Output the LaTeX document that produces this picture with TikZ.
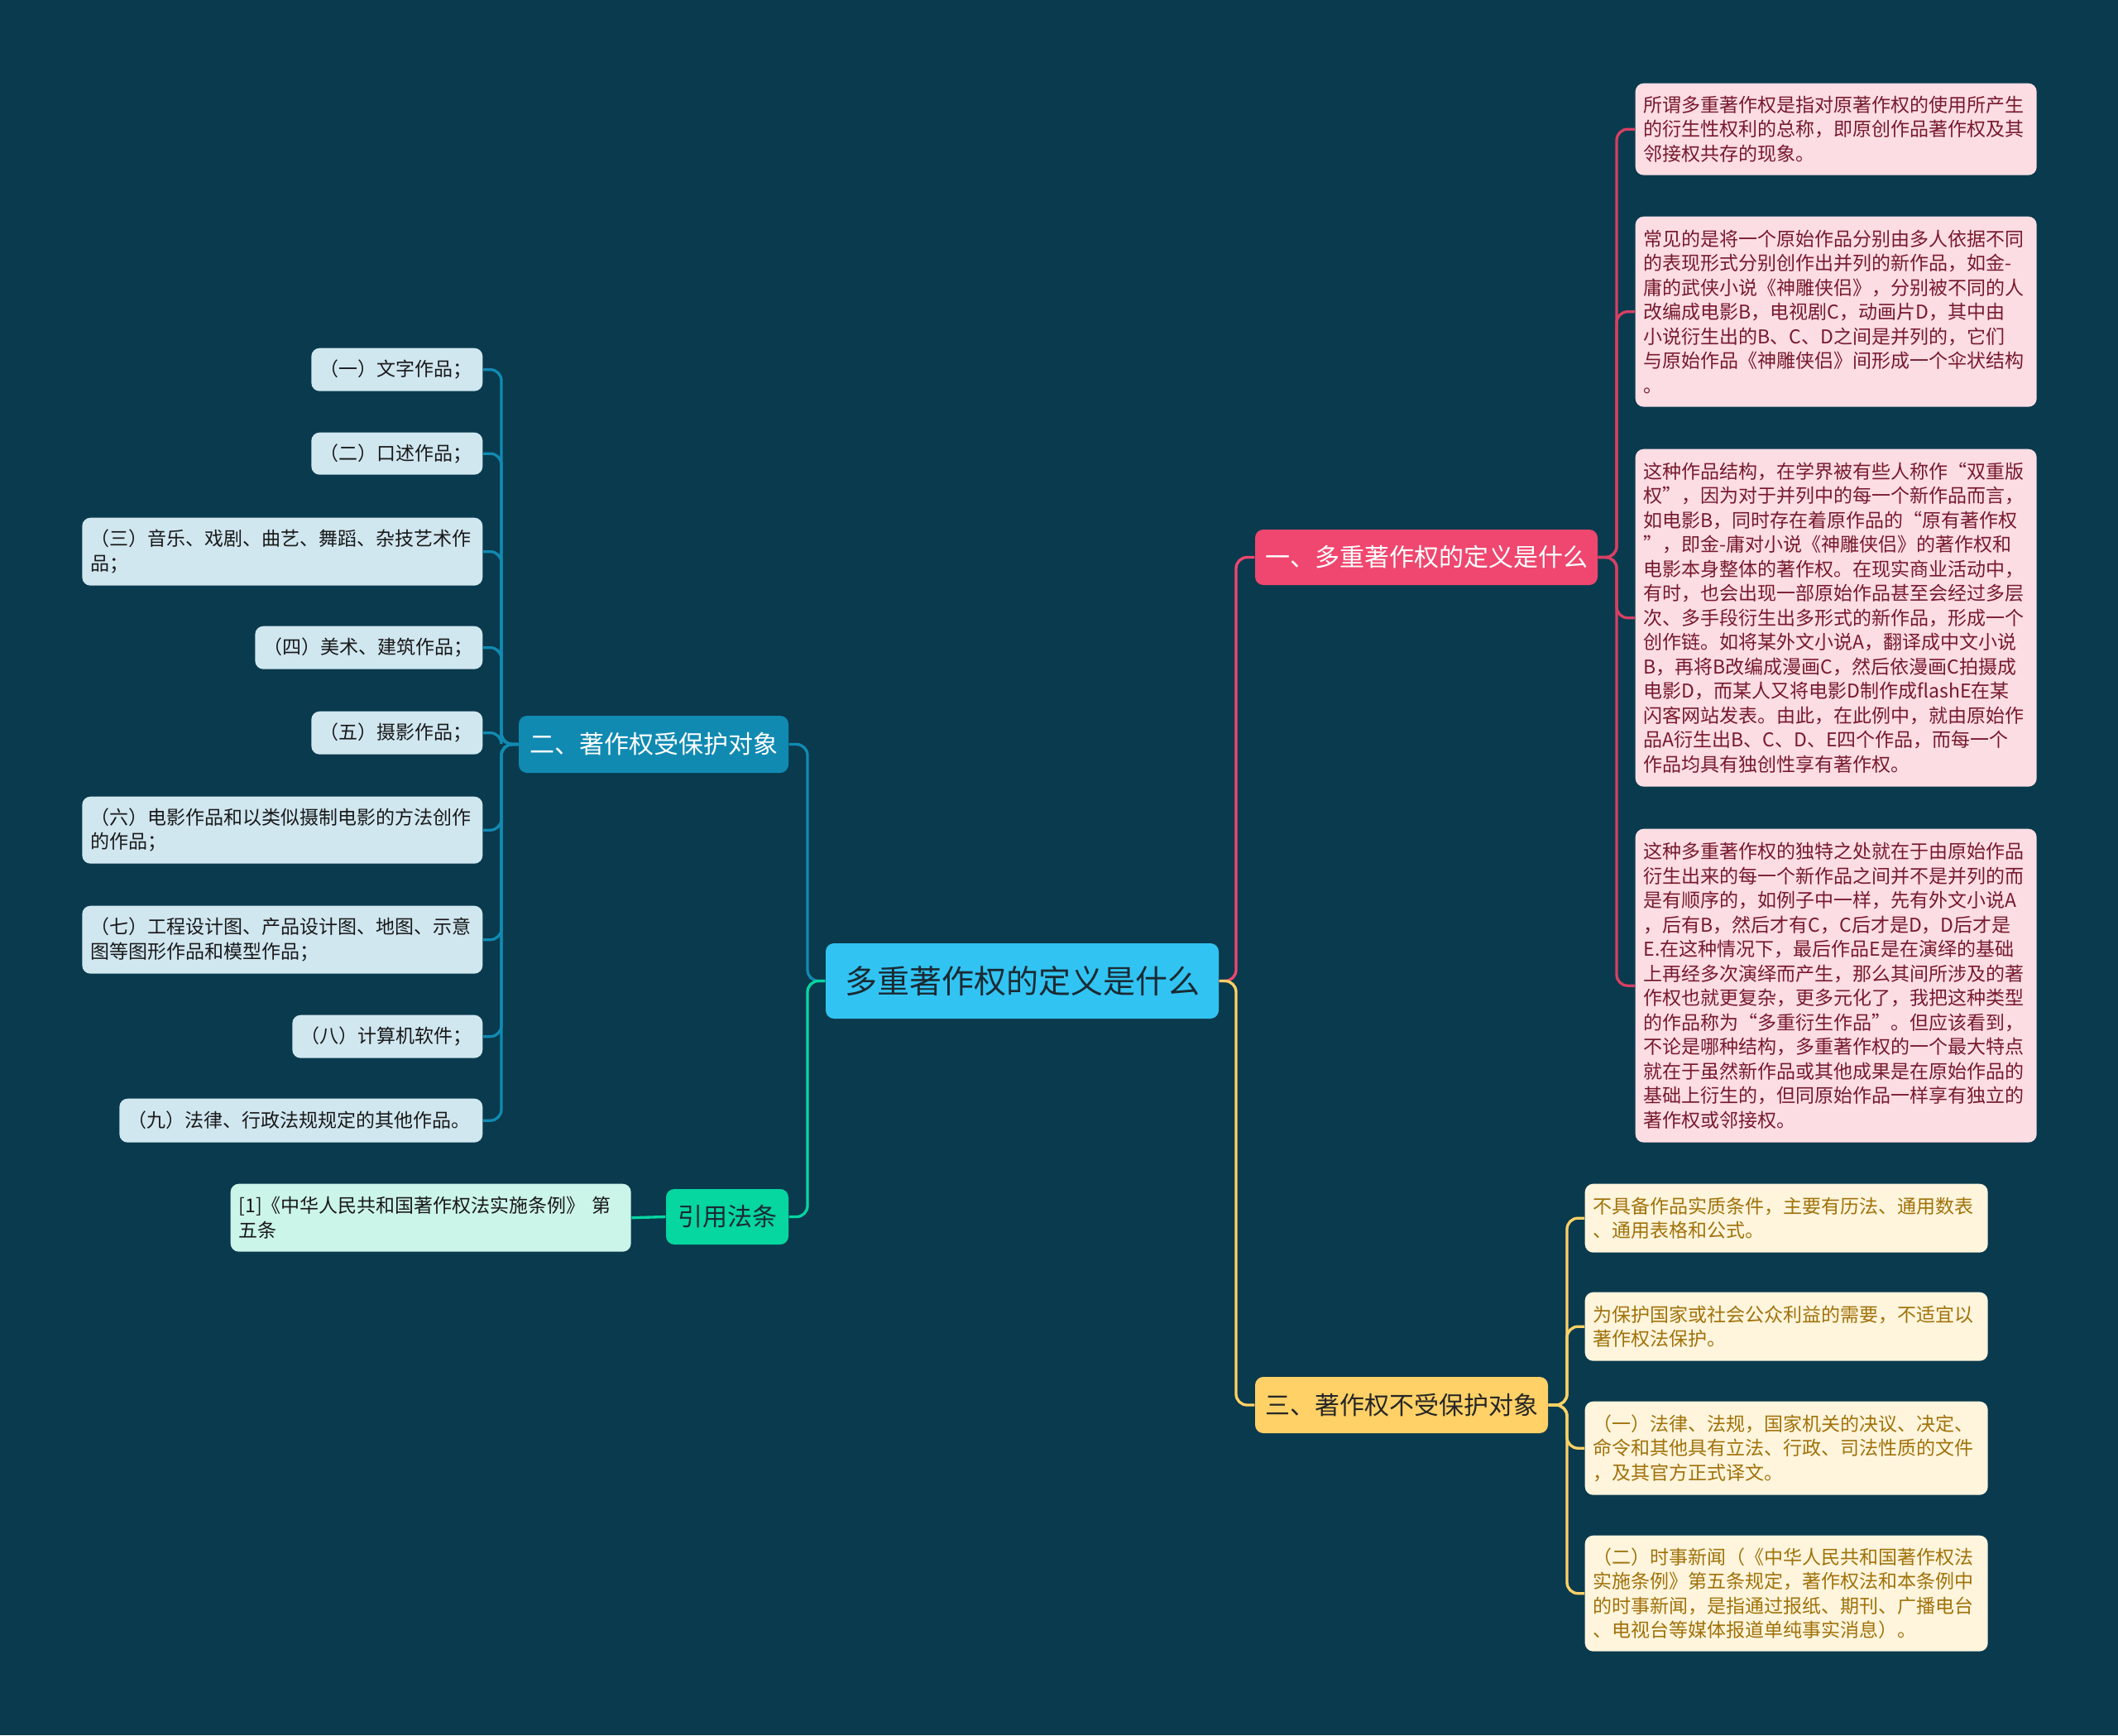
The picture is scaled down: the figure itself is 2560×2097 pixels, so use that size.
\documentclass[tikz,border=0pt]{standalone}
\usepackage{fontspec}
\setmainfont{Noto Sans CJK SC}
\definecolor{bg}{HTML}{0A3A4D}
\definecolor{rootc}{HTML}{31C4F3}
\definecolor{pinkc}{HTML}{EF476F}
\definecolor{bluec}{HTML}{118AB2}
\definecolor{greenc}{HTML}{06D6A0}
\definecolor{yelc}{HTML}{FFD166}
\definecolor{pinkleaf}{HTML}{FDDDE4}
\definecolor{pinktext}{HTML}{771A2E}
\definecolor{yelleaf}{HTML}{FFF5DD}
\definecolor{yeltext}{HTML}{A0720A}
\definecolor{blueleaf}{HTML}{D0E7F0}
\definecolor{greenleaf}{HTML}{CCF5EA}
\definecolor{darktext}{HTML}{1A2A33}
\tikzset{
  box/.style={rectangle, rounded corners=3pt, inner sep=0pt},
  leaf/.style={box, inner xsep=3pt, align=left,
    font=\fontsize{6.9pt}{8.85pt}\selectfont},
  pinkbox/.style={leaf, fill=pinkleaf, text=pinktext, anchor=north west,
    minimum width=145.5pt, text width=139.5pt},
  yelbox/.style={leaf, fill=yelleaf, text=yeltext, anchor=north west,
    minimum width=146.1pt, text width=140.1pt},
  bluebox/.style={leaf, fill=blueleaf, text=black!90, anchor=north east},
  rootbox/.style={box, fill=rootc, text=darktext,
    font=\fontsize{11.7pt}{14pt}\selectfont},
  branch/.style={box, font=\fontsize{9pt}{11pt}\selectfont},
  conn/.style={line width=1pt, rounded corners=4pt}
}
\begin{document}
\begin{tikzpicture}[x=0.3pt,y=-0.3pt]
\fill[bg] (0,0) rectangle (2560,2097);
\useasboundingbox (0,0) rectangle (2560,2097);

% root and branches
\node[rootbox, minimum width=142.5pt, minimum height=27.3pt] (root) at (1235.5,1185.5) {多重著作权的定义是什么};
\node[branch, fill=pinkc, text=white, minimum width=124.2pt, minimum height=20.1pt] (b1) at (1724,673.5) {一、多重著作权的定义是什么};
\node[branch, fill=bluec, text=white, minimum width=97.8pt, minimum height=20.7pt] (b2) at (790,899.5) {二、著作权受保护对象};
\node[branch, fill=greenc, text=darktext, minimum width=44.4pt, minimum height=20.1pt] (b4) at (879,1470.5) {引用法条};
\node[branch, fill=yelc, text=black!85, minimum width=106.2pt, minimum height=20.4pt] (b3) at (1694,1698) {三、著作权不受保护对象};

% pink leaves
\node[pinkbox, minimum height=33.3pt] (p1) at (1976,100) {所谓多重著作权是指对原著作权的使用所产生\\的衍生性权利的总称，即原创作品著作权及其\\邻接权共存的现象。};
\node[pinkbox, minimum height=69pt] (p2) at (1976,261) {常见的是将一个原始作品分别由多人依据不同\\的表现形式分别创作出并列的新作品，如金-\\庸的武侠小说《神雕侠侣》，分别被不同的人\\改编成电影B，电视剧C，动画片D，其中由\\小说衍生出的B、C、D之间是并列的，它们\\与原始作品《神雕侠侣》间形成一个伞状结构\\。};
\node[pinkbox, minimum height=122.4pt] (p3) at (1976,542) {这种作品结构，在学界被有些人称作“双重版\\权”，因为对于并列中的每一个新作品而言，\\如电影B，同时存在着原作品的“原有著作权\\”，即金-庸对小说《神雕侠侣》的著作权和\\电影本身整体的著作权。在现实商业活动中，\\有时，也会出现一部原始作品甚至会经过多层\\次、多手段衍生出多形式的新作品，形成一个\\创作链。如将某外文小说A，翻译成中文小说\\B，再将B改编成漫画C，然后依漫画C拍摄成\\电影D，而某人又将电影D制作成flashE在某\\闪客网站发表。由此，在此例中，就由原始作\\品A衍生出B、C、D、E四个作品，而每一个\\作品均具有独创性享有著作权。};
\node[pinkbox, minimum height=113.7pt] (p4) at (1976,1001) {这种多重著作权的独特之处就在于由原始作品\\衍生出来的每一个新作品之间并不是并列的而\\是有顺序的，如例子中一样，先有外文小说A\\，后有B，然后才有C，C后才是D，D后才是\\E.在这种情况下，最后作品E是在演绎的基础\\上再经多次演绎而产生，那么其间所涉及的著\\作权也就更复杂，更多元化了，我把这种类型\\的作品称为“多重衍生作品”。但应该看到，\\不论是哪种结构，多重著作权的一个最大特点\\就在于虽然新作品或其他成果是在原始作品的\\基础上衍生的，但同原始作品一样享有独立的\\著作权或邻接权。};

% yellow leaves
\node[yelbox, minimum height=24.9pt] (y1) at (1915,1430) {不具备作品实质条件，主要有历法、通用数表\\、通用表格和公式。};
\node[yelbox, minimum height=24.9pt] (y2) at (1915,1561) {为保护国家或社会公众利益的需要，不适宜以\\著作权法保护。};
\node[yelbox, minimum height=33.9pt] (y3) at (1915,1693) {（一）法律、法规，国家机关的决议、决定、\\命令和其他具有立法、行政、司法性质的文件\\，及其官方正式译文。};
\node[yelbox, minimum height=42pt] (y4) at (1915,1855) {（二）时事新闻（《中华人民共和国著作权法\\实施条例》第五条规定，著作权法和本条例中\\的时事新闻，是指通过报纸、期刊、广播电台\\、电视台等媒体报道单纯事实消息）。};

% blue leaves
\node[bluebox, minimum width=62.1pt, text width=56.1pt, minimum height=15.6pt] (l1) at (584,420) {（一）文字作品；};
\node[bluebox, minimum width=62.1pt, text width=56.1pt, minimum height=15.3pt] (l2) at (584,522) {（二）口述作品；};
\node[bluebox, minimum width=145.2pt, text width=139.2pt, minimum height=24.6pt] (l3) at (584,625) {（三）音乐、戏剧、曲艺、舞蹈、杂技艺术作\\品；};
\node[bluebox, minimum width=82.5pt, text width=76.5pt, minimum height=15.6pt] (l4) at (584,756) {（四）美术、建筑作品；};
\node[bluebox, minimum width=62.1pt, text width=56.1pt, minimum height=15.6pt] (l5) at (584,859) {（五）摄影作品；};
\node[bluebox, minimum width=145.2pt, text width=139.2pt, minimum height=24.3pt] (l6) at (584,962) {（六）电影作品和以类似摄制电影的方法创作\\的作品；};
\node[bluebox, minimum width=145.2pt, text width=139.2pt, minimum height=24.6pt] (l7) at (584,1094) {（七）工程设计图、产品设计图、地图、示意\\图等图形作品和模型作品；};
\node[bluebox, minimum width=69pt, text width=63pt, minimum height=15.6pt] (l8) at (584,1226) {（八）计算机软件；};
\node[bluebox, minimum width=131.7pt, text width=125.7pt, minimum height=15.9pt] (l9) at (584,1327) {（九）法律、行政法规规定的其他作品。};

% cite leaf
\node[leaf, fill=greenleaf, text=black!90, anchor=north west, minimum width=145.2pt, text width=139.2pt, minimum height=24.6pt] (c1) at (278,1430) {[1]《中华人民共和国著作权法实施条例》~第\\五条};

% junctions
\coordinate (jL) at (976,1185.5);
\coordinate (jR) at (1494,1185.5);
\coordinate (j1) at (1954,673.5);
\coordinate (j2) at (606,899.5);
\coordinate (j3) at (1894,1698);

% root connectors
\draw[conn, bluec] (root.west) -- (jL) |- (b2.east);
\draw[conn, greenc] (root.west) -- (jL) |- (b4.east);
\draw[conn, pinkc] (root.east) -- (jR) |- (b1.west);
\draw[conn, yelc] (root.east) -- (jR) |- (b3.west);

% branch 1
\foreach \n in {p1,p2,p3,p4}
  \draw[conn, pinkc!90!black] (b1.east) -- (j1) |- (\n.west);
% branch 2
\foreach \n in {l1,l2,l3,l4,l5,l6,l7,l8,l9}
  \draw[conn, bluec] (b2.west) -- (j2) |- (\n.east);
% branch 3
\foreach \n in {y1,y2,y3,y4}
  \draw[conn, yelc] (b3.east) -- (j3) |- (\n.west);
% cite
\draw[conn, greenc] (b4.west) -- (c1.east);
\end{tikzpicture}
\end{document}
